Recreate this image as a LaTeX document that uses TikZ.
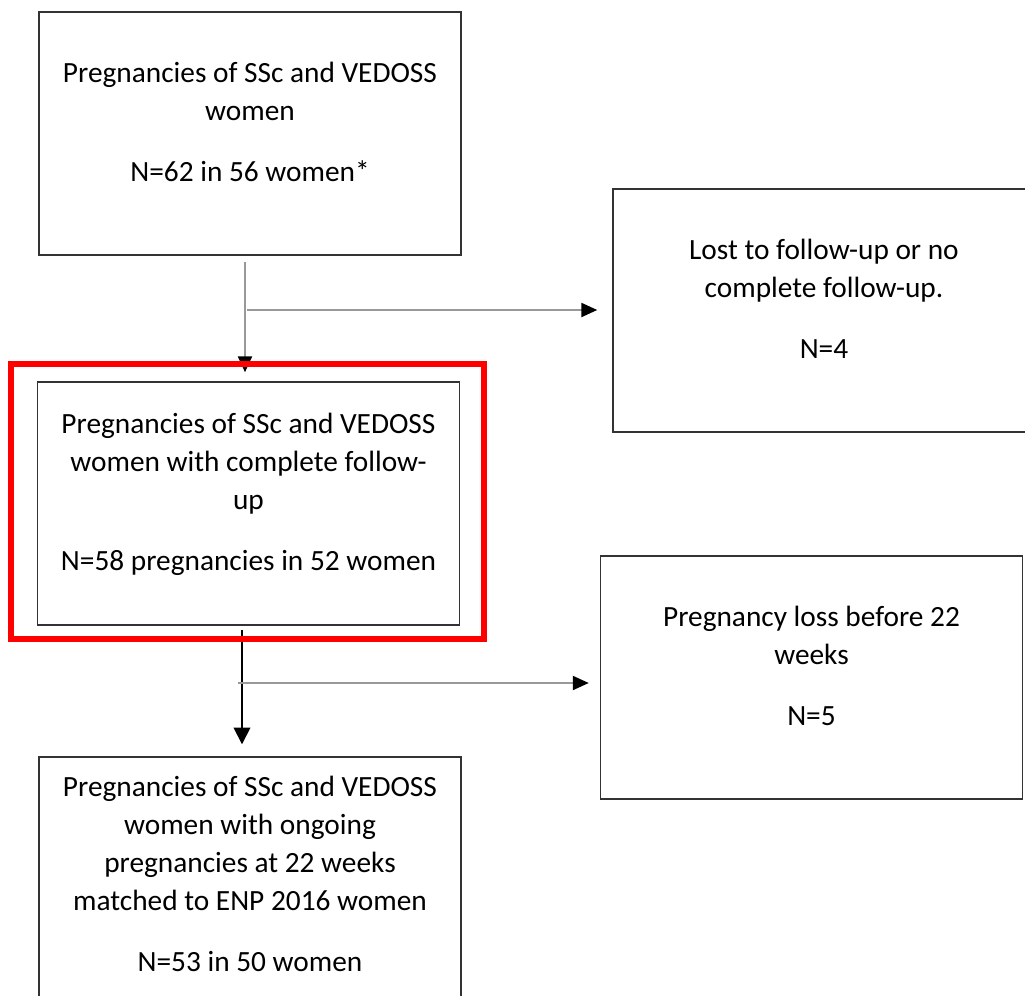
\documentclass[tikz,border=0pt]{standalone}
\usepackage{fontspec}
\setmainfont{Carlito}
\usepackage{xcolor}
\usepackage{tikz}
\usetikzlibrary{arrows.meta}
\usetikzlibrary{positioning}

\begin{document}
\begin{tikzpicture}[
	x=0.75pt, y=-0.75pt,
	font=\fontsize{22pt}{28.5pt}\selectfont
]
\tikzset{
    flowbox/.style = {rectangle, draw=black!80, line width=1.1pt, align=center, inner sep=0pt, text depth=18pt, minimum width=316.5pt, minimum height=182.25pt},
    greyarrow/.style = {draw=black!40, line width=1.7pt, -{Triangle[length=12pt,width=10.5pt,color=black]}},
    blackarrow/.style = {draw=black, line width=1.3pt, -{Triangle[length=12.5pt,width=12.5pt]}}
}
\useasboundingbox (0,0) rectangle (1025,996);
\clip (0,0) rectangle (1025,996);
\node[flowbox] (total) at (250,133.5) {Pregnancies of SSc and VEDOSS\\women\\[17pt]N=62 in 56 women*};
\node[flowbox] (lost) at (824,310.5) {Lost to follow-up or no\\complete follow-up.\\[17pt]N=4};
\node[flowbox] (complete) at (248.5,503.5) {Pregnancies of SSc and VEDOSS\\women with complete follow-\\up\\[17pt]N=58 pregnancies in 52 women};
\node[flowbox] (loss) at (811.5,677.5) {Pregnancy loss before 22\\weeks\\[17pt]N=5};
\node[flowbox,minimum height=192.75pt] (matched) at (250,885.5) {Pregnancies of SSc and VEDOSS\\women with ongoing\\pregnancies at 22 weeks\\matched to ENP 2016 women\\[17pt]N=53 in 50 women};
\coordinate (split1) at (245,262);
\coordinate (branch1) at (247,310);
\coordinate (split2) at (242,630);
\coordinate (branch2) at (238,683);
\draw[greyarrow,shorten >=6.75pt] (split1) -- (split1 |- complete.north);
\draw[greyarrow,shorten >=11.25pt] (branch1) -- (branch1 -| lost.west);
\draw[blackarrow,shorten >=9pt] (split2) -- (split2 |- matched.north);
\draw[greyarrow,shorten >=8.25pt] (branch2) -- (branch2 -| loss.west);
\node[rectangle,draw=red,line width=4.5pt,minimum width=354.4pt,minimum height=205.9pt] (highlight) at (247.25,501.25) {};
\end{tikzpicture}
\end{document}
